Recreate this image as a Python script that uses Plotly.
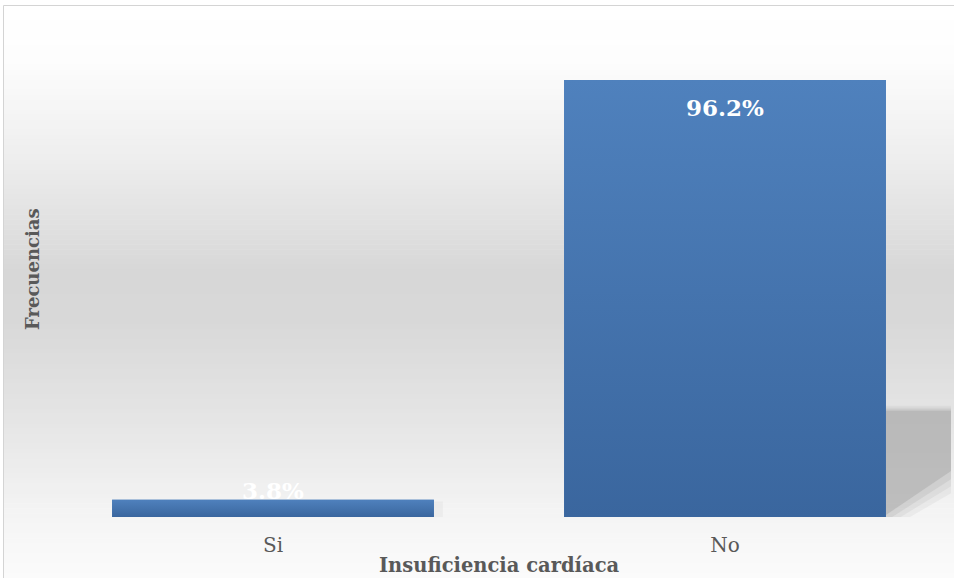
import plotly.graph_objects as go

# Data
categories = ["Si", "No"]
percentages = [3.8, 96.2]
label_texts = ["3.8%", "96.2%"]

x_title = "Insuficiencia cardíaca"
y_title = "Frecuencias"

# Figure geometry (pixels)
W, H = 954, 578
M_L, M_R, M_T, M_B = 47, 3, 40, 61
Y_MAX = 105
BAR_W = 0.712

PLOT_W = W - M_L - M_R
PLOT_H = H - M_T - M_B

FONT = "DejaVu Serif"
TEXT_GREY = "#595959"
BAR_TOP = "#4f81bd"
BAR_BOTTOM = "#3a669e"

xs = list(range(len(categories)))

fig = go.Figure()

# Bars
fig.add_trace(go.Bar(
    x=xs, y=percentages, width=BAR_W,
    marker=dict(color=BAR_TOP, line=dict(width=0)),
    hoverinfo="skip", showlegend=False,
))

# Vertical gradient over each bar, built from the same values
for x, v in zip(xs, percentages):
    x0, x1 = x - BAR_W / 2, x + BAR_W / 2
    fig.add_trace(go.Scatter(
        x=[x0, x1, x1, x0, x0], y=[0, 0, v, v, 0],
        mode="lines", line=dict(width=0), fill="toself",
        fillgradient=dict(type="vertical",
                          colorscale=[[0, BAR_BOTTOM], [1, BAR_TOP]]),
        hoverinfo="skip", showlegend=False,
    ))


def px_to_paper_x(px):
    return (px - M_L) / PLOT_W


def px_to_paper_y(py):
    return (H - M_B - py) / PLOT_H


shapes = []

# Chart-area background: light grey band fading to white above and below
stops = [(5, 255), (60, 253), (150, 239), (270, 215), (320, 216),
         (420, 229), (520, 245), (578, 251)]
n_strips = 115
y_top, y_bot = 5, 578
step = (y_bot - y_top) / n_strips
for i in range(n_strips):
    a = y_top + i * step
    b = a + step + 0.6
    mid = (a + b) / 2
    for (p0, c0), (p1, c1) in zip(stops[:-1], stops[1:]):
        if p0 <= mid <= p1:
            g = c0 + (c1 - c0) * (mid - p0) / (p1 - p0)
            break
    g = int(round(g))
    shapes.append(dict(
        type="rect", xref="paper", yref="paper", layer="below",
        x0=px_to_paper_x(3), x1=px_to_paper_x(W + 2),
        y0=px_to_paper_y(b), y1=px_to_paper_y(a),
        fillcolor=f"rgb({g},{g},{g})", line=dict(width=0),
    ))

# Outline of the chart area
shapes.append(dict(
    type="rect", xref="paper", yref="paper", layer="above",
    x0=px_to_paper_x(3.5), x1=px_to_paper_x(W + 5),
    y0=px_to_paper_y(H + 5), y1=px_to_paper_y(5.5),
    fillcolor="rgba(0,0,0,0)", line=dict(color="#d4d4d4", width=1),
))

# Soft perspective shadow cast to the right of the tall bar
big = percentages[1]
xr = xs[1] + BAR_W / 2
reach = 0.15
unit_px = PLOT_H / Y_MAX
layers = [
    ("rgba(165,165,165,0.12)", 5, 14),
    ("rgba(165,165,165,0.16)", 3, 9),
    ("rgba(165,165,165,0.22)", 1.5, 4),
    ("rgba(170,170,170,0.50)", 0, -2),
]
for col, grow_top, grow_diag in layers:
    top = big * 0.243 + grow_top / unit_px
    base = -grow_diag / unit_px
    far = big * 0.103 - grow_diag * 1.4 / unit_px
    path = (f"M {xr},{base} L {xr},{top} L {xr + reach},{top} "
            f"L {xr + reach},{far} Z")
    shapes.append(dict(type="path", xref="x", yref="y", layer="below",
                       path=path, fillcolor=col, line=dict(width=0)))

# Faint shadow to the right of the short bar
small = percentages[0]
xs_r = xs[0] + BAR_W / 2
shapes.append(dict(type="rect", xref="x", yref="y", layer="below",
                   x0=xs_r, x1=xs_r + 0.02, y0=0, y1=small * 0.9,
                   fillcolor="rgba(200,200,200,0.18)", line=dict(width=0)))

annotations = []
# Value labels near the top of each bar
for x, v, t in zip(xs, percentages, label_texts):
    inside = v > 20
    annotations.append(dict(
        x=x, y=v, xref="x", yref="y", text=f"<b>{t}</b>",
        showarrow=False, yanchor="middle",
        yshift=-28 if inside else 9,
        font=dict(family=FONT, size=23, color="white"),
    ))

# Axis titles
annotations.append(dict(
    x=0.5, y=px_to_paper_y(565), xref="paper", yref="paper",
    text=f"<b>{x_title}</b>", showarrow=False,
    xanchor="center", yanchor="middle",
    font=dict(family=FONT, size=19.5, color=TEXT_GREY),
))
annotations.append(dict(
    x=px_to_paper_x(32), y=px_to_paper_y(269), xref="paper", yref="paper",
    text=f"<b>{y_title}</b>", showarrow=False, textangle=-90,
    xanchor="center", yanchor="middle",
    font=dict(family=FONT, size=18, color=TEXT_GREY),
))

fig.update_layout(
    width=W, height=H,
    margin=dict(l=M_L, r=M_R, t=M_T, b=M_B),
    paper_bgcolor="white", plot_bgcolor="rgba(0,0,0,0)",
    shapes=shapes, annotations=annotations,
    showlegend=False,
    xaxis=dict(range=[-0.5, 1.5], tickmode="array", tickvals=xs,
               ticktext=categories, showgrid=False, zeroline=False,
               showline=False, ticks="", ticklabelstandoff=14,
               tickfont=dict(family=FONT, size=20, color=TEXT_GREY)),
    yaxis=dict(range=[0, Y_MAX], showgrid=False, zeroline=False,
               showline=False, showticklabels=False, ticks=""),
)

fig.write_html("out.html")
